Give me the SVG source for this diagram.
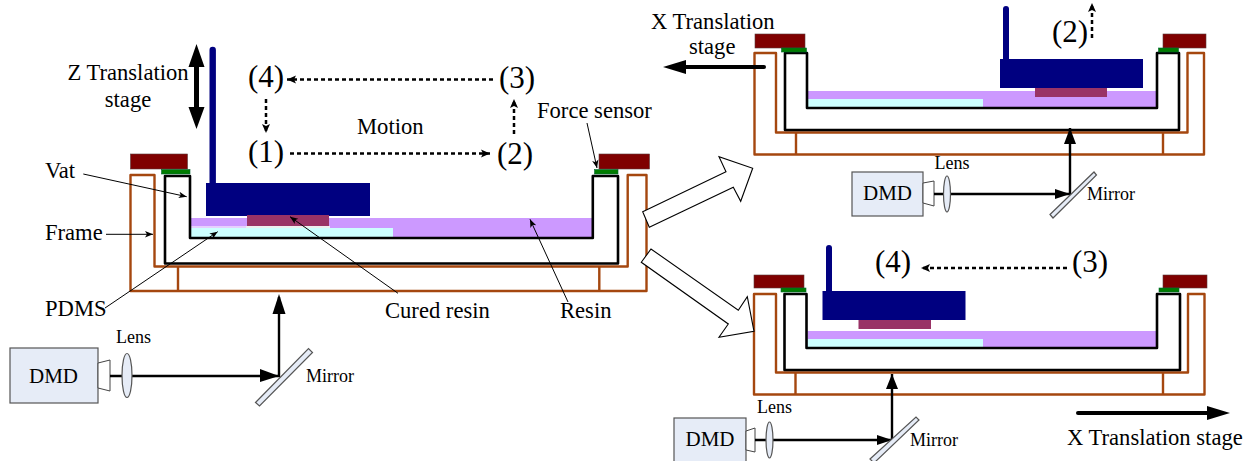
<svg xmlns="http://www.w3.org/2000/svg" width="1250" height="461" viewBox="0 0 1250 461">
<style>
text{font-family:"Liberation Serif","Times New Roman",serif;fill:#000}
.t19{font-size:22.600px}.t15{font-size:18px}.t26{font-size:31px}.td{font-size:21px}
.m{text-anchor:middle}
.frame{fill:none;stroke:#a5470f;stroke-width:2.4;stroke-linejoin:round}
.vat{fill:none;stroke:#000;stroke-width:2.6;stroke-linejoin:round}
.clamp{fill:#7f0000;stroke:#5a3a3a;stroke-width:.6}
.sensor{fill:#007c00;stroke:#063;stroke-width:.6}
.resin{fill:#cc99ff}.pdms{fill:#ccffff}.block{fill:#000080}.cured{fill:#993366}
.dev{fill:#e6ecf7;stroke:#555;stroke-width:1.2}
.noz{fill:#fff;stroke:#444;stroke-width:1}
.beam{fill:none;stroke:#000;stroke-width:2.4}
.lead{fill:none;stroke:#000;stroke-width:1;marker-end:url(#small)}
.dash{fill:none;stroke:#000;stroke-width:2.500;stroke-dasharray:4 3;marker-end:url(#dhead)}
.thick{fill:none;stroke:#000;stroke-width:4;stroke-linecap:round}
.hollow{fill:#fff;stroke:#000;stroke-width:1.1;stroke-linejoin:miter}
</style>
<defs>
<marker id="small" markerUnits="userSpaceOnUse" markerWidth="9" markerHeight="8" refX="8" refY="4" orient="auto"><path d="M0 .8L8 4L0 7.2L2 4Z" fill="#000"/></marker>
<marker id="dhead" markerUnits="userSpaceOnUse" markerWidth="10" markerHeight="10" refX="9" refY="5" orient="auto"><path d="M0 1L9 5L0 9L2 5Z" fill="#000"/></marker>
</defs>

<g id="left-stage">
<rect class="resin" x="191" y="218" width="402" height="20"/>
<rect x="191" y="226" width="60" height="2" fill="#e6d0ff"/>
<rect class="pdms" x="191" y="228" width="202" height="10"/>
<rect x="246" y="226" width="84" height="2" fill="#eee"/>
<path class="block" d="M209.500 184V50a3.200 3.200 0 0 1 6.400 0V184Z"/>
<rect class="block" x="206" y="183" width="164" height="33"/>
<rect x="191" y="216" width="402" height="2" fill="#fff"/>
<rect class="cured" x="247" y="215" width="82" height="11"/>
<path class="frame" d="M130.500 175H154.500V266.500H627.700V175H646.500V291H130.500ZM178 266.500V291M599.300 266.500V291"/>
<path class="vat" d="M165 176H190V238H592.800V176H618V263.500H165Z"/>
<rect class="clamp" x="130.500" y="154" width="57" height="15"/>
<rect class="clamp" x="599" y="154" width="50.500" height="15"/>
<rect class="sensor" x="161.500" y="169.500" width="28.500" height="4.500"/>
<rect class="sensor" x="594.500" y="169.500" width="23.500" height="4.500"/>
</g>
<g id="left-optics">
<rect class="dev" x="10" y="348" width="88" height="55"/>
<path class="noz" d="M98 363L110 360V391L98 388Z"/>
<path class="beam" d="M110 376H279V297"/>
<path d="M260 369L279 376L260 382Z" fill="#000"/>
<path d="M279 294L272.500 314H285.500Z" fill="#000"/>
<ellipse class="dev" cx="127" cy="375.500" rx="5" ry="22"/>
<path class="dev" d="M255.500 402.500L308.500 348.500L312.500 352.500L259.500 406Z"/>
<text class="td m" x="53.500" y="383">DMD</text>
<text class="t15 m" x="133.500" y="343">Lens</text>
<text class="t15" x="306" y="382">Mirror</text>
</g>

<g id="top-stage">
<rect class="resin" x="808" y="91" width="349" height="16"/>
<rect class="pdms" x="808" y="99" width="175" height="8"/>
<path class="block" d="M1003 59V9a3 3 0 0 1 6 0V59Z"/>
<rect class="block" x="1000" y="59" width="143" height="29"/>
<rect class="cured" x="1035" y="88" width="72" height="9"/>
<path class="frame" d="M754.500 53H776V132.500H1187.500V53H1204V154.500H754.500ZM796 132.500V154.500M1163 132.500V154.500"/>
<path class="vat" d="M785 53H807V108H1157V53H1179V130H785Z"/>
<rect class="clamp" x="755" y="34" width="50" height="14"/>
<rect class="clamp" x="1163" y="34" width="43" height="14"/>
<rect class="sensor" x="781.500" y="48" width="25" height="4"/>
<rect class="sensor" x="1158.500" y="48" width="20" height="4"/>
</g>
<g id="top-optics">
<rect class="dev" x="852" y="172" width="71" height="44"/>
<path class="noz" d="M923 183L934 181V206L923 203Z"/>
<path class="beam" d="M934 194H1070V128"/>
<path d="M1055 189L1070 194L1055 199Z" fill="#000"/>
<path d="M1070 128L1064 144H1076Z" fill="#000"/>
<ellipse class="dev" cx="947" cy="194" rx="3.500" ry="18"/>
<path class="dev" d="M1050 214.500L1094 172L1096.500 175L1053 218Z"/>
<text class="td m" x="887.500" y="200">DMD</text>
<text class="t15 m" x="952" y="169">Lens</text>
<text class="t15" x="1087" y="200">Mirror</text>
</g>

<g id="bottom-stage">
<rect class="resin" x="807.500" y="331" width="349.500" height="16"/>
<rect class="pdms" x="807.500" y="339" width="175.500" height="8"/>
<path class="block" d="M826 291V248a3 3 0 0 1 6 0V291Z"/>
<rect class="block" x="822.500" y="291" width="143" height="29"/>
<rect class="cured" x="858.500" y="320" width="72.500" height="9"/>
<path class="frame" d="M754 294H776V372.500H1188V294H1204.500V394.500H754ZM795.500 372.500V394.500M1163 372.500V394.500"/>
<path class="vat" d="M784.500 294H806.500V348H1157V294H1180V370H784.500Z"/>
<rect class="clamp" x="754" y="275" width="50" height="13"/>
<rect class="clamp" x="1163" y="275" width="44" height="13"/>
<rect class="sensor" x="781" y="288" width="25" height="4"/>
<rect class="sensor" x="1159" y="288" width="20" height="4"/>
</g>
<g id="bottom-optics">
<rect class="dev" x="674" y="418" width="72" height="45"/>
<path class="noz" d="M746 431L755 428V452L746 450Z"/>
<path class="beam" d="M755 440H892V374"/>
<path d="M877 435L892 440L877 445Z" fill="#000"/>
<path d="M892 374L886 389H898Z" fill="#000"/>
<ellipse class="dev" cx="769.500" cy="440" rx="3.500" ry="18"/>
<path class="dev" d="M870 459L916 417L919 420L874 463Z"/>
<text class="td m" x="710" y="446">DMD</text>
<text class="t15 m" x="774.500" y="413">Lens</text>
<text class="t15" x="910" y="446">Mirror</text>
</g>

<g id="connectors">
<path d="M196.500 44L188.500 67H194V107H188.500L196.500 129L204.500 107H199V67H204.500Z" fill="#000"/>
<path class="dash" d="M493 79.500H287"/>
<path class="dash" d="M266 99V133"/>
<path class="dash" d="M290 153.500H490"/>
<path class="dash" d="M514 134V99"/>
<path class="dash" d="M1092 38V3"/>
<path class="dash" d="M1067 268H921"/>
<path class="lead" d="M83.300 174L186.700 196.700"/>
<path class="lead" d="M106 234.300H153"/>
<path class="lead" d="M105 308L217.700 231.700"/>
<path class="lead" d="M398 293.300L290 216.700"/>
<path class="lead" d="M568 302L530 219.300"/>
<path class="lead" d="M587 123L597 168"/>
<path class="thick" d="M764 67H684"/>
<path d="M663 67L686 60V74Z" fill="#000"/>
<path class="thick" d="M1078 413H1210"/>
<path d="M1230 413L1207 406V420Z" fill="#000"/>
<path class="hollow" d="M642.700 211.700L726 171.700L719 156.700L752.700 168.300L740.700 201.300L733.300 187.300L649.300 227.300Z"/>
<path class="hollow" d="M641.300 262.300L651 249L738.300 310.300L747.300 296.700L754 331.300L719 337.300L728.300 324Z"/>
</g>

<g id="labels">
<text class="t19 m" x="128" y="80">Z Translation</text>
<text class="t19 m" x="128" y="107">stage</text>
<text class="t26" x="248" y="87">(4)</text>
<text class="t26" x="499" y="88">(3)</text>
<text class="t26" x="248" y="162">(1)</text>
<text class="t26" x="497" y="164">(2)</text>
<text class="t19" x="357" y="134">Motion</text>
<text class="t19" x="537" y="118">Force sensor</text>
<text class="t19" x="45" y="178">Vat</text>
<text class="t19" x="45" y="240">Frame</text>
<text class="t19" x="45" y="316">PDMS</text>
<text class="t19" x="385" y="318">Cured resin</text>
<text class="t19" x="560" y="318">Resin</text>
<text class="t19" x="651" y="29">X Translation</text>
<text class="t19" x="689" y="54">stage</text>
<text class="t26" x="1052" y="42">(2)</text>
<text class="t26" x="875" y="272">(4)</text>
<text class="t26" x="1072" y="272">(3)</text>
<text class="t19" x="1067" y="445">X Translation stage</text>
</g>
</svg>
